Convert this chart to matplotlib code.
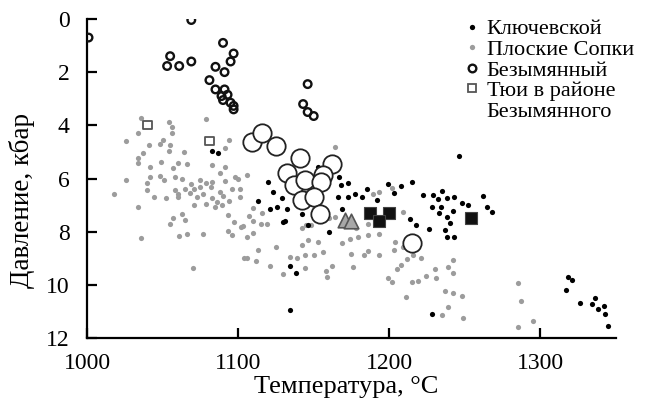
import matplotlib
matplotlib.use("Agg")
import matplotlib.pyplot as plt
from matplotlib.lines import Line2D

plt.rcParams['font.family'] = ['Liberation Serif', 'DejaVu Serif']

# Плоские Сопки (gray dots)
ps_T = [1036,1054,1056,1079,1034,1056,1026,1041,1050,1055,1048,1094,1091,1037,1034,1054,1064,1034,1049,1060,
        1066,1083,1091,1042,1057,1088,1026,1042,1048,1051,1058,1063,1075,1083,1091,1098,1040,1018,1040,1044,
        1058,1065,1060,1071,1079,1082,1088,1096,1101,1077,
        1052,1060,1071,1079,1085,1089,1034,1057,1063,1065,1055,1093,1097,1102,1093,1096,1036,1061,1066,1077,
        1070,1104,1101,1068,1073,1083,1090,1094,1086,1075,1069,
        1164,1106,1100,1107,1103,1110,1115,1119,1106,1110,1113,1106,1112,1121,1125,1134,1139,1142,1148,1142,
        1146,1144,1150,1153,1156,1144,1130,1158,1162,1159,1169,1174,1179,1175,1176,1178,1186,1186,1183,1186,
        1193,1193,1193,1189,1164,1110,1116,1150,1145,1160,1202,
        1204,1203,1209,1216,1212,1208,1205,1221,1242,1239,1242,1230,1231,1224,1219,1215,1199,1202,1211,1237,
        1242,1248,1239,1235,1249,1209,1285,1287,1295,1285]
ps_P = [3.73,3.87,4.07,3.77,4.30,4.30,4.60,4.74,4.55,4.74,4.70,4.55,4.86,5.03,5.23,4.96,5.00,5.40,5.38,5.40,
        5.45,5.49,5.56,5.56,5.60,5.80,6.05,5.94,5.90,6.05,5.94,6.00,6.05,6.12,6.09,5.94,6.16,6.60,6.43,6.69,
        6.43,6.40,6.60,6.40,6.17,6.30,6.50,6.40,6.40,6.58,
        6.73,6.70,7.00,6.95,7.07,7.00,7.07,7.48,7.33,7.55,7.70,7.37,7.63,7.82,7.97,8.12,8.23,8.16,8.08,8.08,
        9.36,8.98,6.70,6.55,6.70,6.75,6.65,6.85,6.90,6.30,6.20,
        4.80,5.86,6.00,7.40,7.80,7.60,7.70,7.70,8.20,8.04,8.68,9.00,9.10,9.30,8.57,8.95,9.00,7.86,7.74,8.50,
        8.30,8.87,8.87,8.40,8.76,9.36,9.59,9.47,9.29,9.70,8.42,8.27,8.20,8.83,9.33,7.86,8.12,7.70,8.87,8.72,
        8.87,8.08,6.50,6.60,7.44,7.10,7.30,7.30,7.75,7.50,6.35,
        8.38,8.68,8.57,8.87,9.02,9.25,9.40,8.98,9.06,9.32,9.55,9.40,9.74,9.66,9.85,9.89,9.74,9.89,10.45,10.23,
        10.30,10.41,10.83,11.13,11.24,7.26,9.92,10.60,11.35,11.58]

# Ключевской (black dots)
kl_T = [1083,1087,1120,1123,1113,1121,1126,1132,1129,1131,1142,1153,1167,1173,1168,1166,1173,1182,1177,1199,
        1203,1169,1146,1130,1160,1134,1138,1134,1185,1192,
        1246,1215,1208,1222,1235,1229,1232,1238,1243,1248,1252,1262,1265,1268,1228,1234,1242,1233,1238,1240,
        1237,1226,1238,1243,1214,1218,1228,
        1318,1321,1317,1326,1336,1334,1342,1338,1343,1345]
kl_P = [4.96,5.03,6.12,6.50,6.84,7.14,7.07,7.14,6.73,7.60,7.33,5.56,5.94,6.17,6.24,6.69,6.69,6.69,6.60,6.20,
        6.54,7.14,7.74,7.63,8.00,9.30,9.55,10.94,6.40,6.80,
        5.15,6.13,6.28,6.62,6.46,6.62,6.77,6.73,6.69,6.92,6.99,6.65,7.07,7.26,7.07,7.07,7.22,7.30,7.44,7.67,
        7.93,7.90,8.20,8.20,7.52,7.74,11.09,
        9.70,9.81,10.19,10.68,10.49,10.70,10.80,10.90,11.10,11.54]

# Безымянный (small open circles)
bz_T = [1001,1069,1090,1097,1095,1055,1053,1061,1069,1085,1091,1081,1085,1091,1089,1093,1090,1095,1097,1097,
        1146,1143,1146,1150]
bz_P = [0.70,0.04,0.90,1.30,1.60,1.40,1.77,1.77,1.60,1.80,2.00,2.30,2.65,2.65,2.90,2.85,3.05,3.15,3.27,3.40,
        2.45,3.20,3.50,3.65]

# Large open circles
lc_T = [1109,1116,1125,1141,1132,1162,1137,1144,1156,1155,1142,1150,1154,1215]
lc_P = [4.61,4.30,4.77,5.24,5.80,5.45,6.24,6.05,5.86,6.12,6.80,6.70,7.33,8.42]

# Gray triangles
tr_T = [1171,1175]
tr_P = [7.55,7.60]

# Black squares
sq_T = [1187,1200,1193,1254]
sq_P = [7.30,7.30,7.58,7.48]

# Тюи в районе Безымянного (open squares)
ty_T = [1040,1081]
ty_P = [4.00,4.60]

xticks = [1000, 1100, 1200, 1300]
yticks = [0, 2, 4, 6, 8, 10, 12]

fig = plt.figure(figsize=(6.47, 4.03), dpi=100)
ax = fig.add_axes([0.1345, 0.161, 0.8175, 0.792])

gray = '#9c9c9c'
ax.scatter(ps_T, ps_P, s=14, c=gray, linewidths=0, zorder=2)
ax.scatter(kl_T, kl_P, s=14, c='black', linewidths=0, zorder=3)
ax.scatter(bz_T, bz_P, s=30, facecolors='none', edgecolors='#111111', linewidths=1.7, zorder=4)
ax.scatter(lc_T, lc_P, s=175, facecolors='white', edgecolors='#222222', linewidths=1.3, zorder=5)
ax.scatter(tr_T, tr_P, s=110, marker='^', facecolors='#a8a8a8', edgecolors='#555555', linewidths=1.2, zorder=6)
ax.scatter(sq_T, sq_P, s=80, marker='s', facecolors='#111111', edgecolors='#444444', linewidths=0.8, zorder=7)
ax.scatter(ty_T, ty_P, s=36, marker='s', facecolors='none', edgecolors='#555555', linewidths=1.3, zorder=6)

ax.set_xlim(1000, 1350)
ax.set_ylim(12, 0)
ax.set_xticks(xticks)
ax.set_yticks(yticks)
ax.spines['top'].set_visible(False)
ax.spines['right'].set_visible(False)
for sp in ('left', 'bottom'):
    ax.spines[sp].set_linewidth(1.6)
ax.tick_params(axis='both', direction='in', length=7, width=1.6, labelsize=17)
ax.tick_params(axis='x', pad=10.5)
ax.tick_params(axis='y', pad=12.5)

ax.set_xlabel('Температура, °C', fontsize=19)
ax.xaxis.set_label_coords(0.49, -0.118)
ax.set_ylabel('Давление, кбар', fontsize=19.5)
ax.yaxis.set_label_coords(-0.098, 0.43)

handles = [
    Line2D([], [], linestyle='none', marker='o', markersize=3.8, markerfacecolor='black', markeredgewidth=0),
    Line2D([], [], linestyle='none', marker='o', markersize=3.8, markerfacecolor=gray, markeredgewidth=0),
    Line2D([], [], linestyle='none', marker='o', markersize=5.5, markerfacecolor='none',
           markeredgecolor='#111111', markeredgewidth=1.7),
    Line2D([], [], linestyle='none', marker='s', markersize=6, markerfacecolor='none',
           markeredgecolor='#555555', markeredgewidth=1.3),
    Line2D([], [], linestyle='none'),
]
labels = ['Ключевской', 'Плоские Сопки', 'Безымянный', 'Тюи в районе', 'Безымянного']
fig.legend(handles, labels, loc='upper left', bbox_to_anchor=(0.717, 0.953), frameon=False,
           fontsize=16, handlelength=0.75, handletextpad=0.28, labelspacing=0.0, borderpad=0,
           borderaxespad=0)

fig.savefig('out.png', dpi=100)
